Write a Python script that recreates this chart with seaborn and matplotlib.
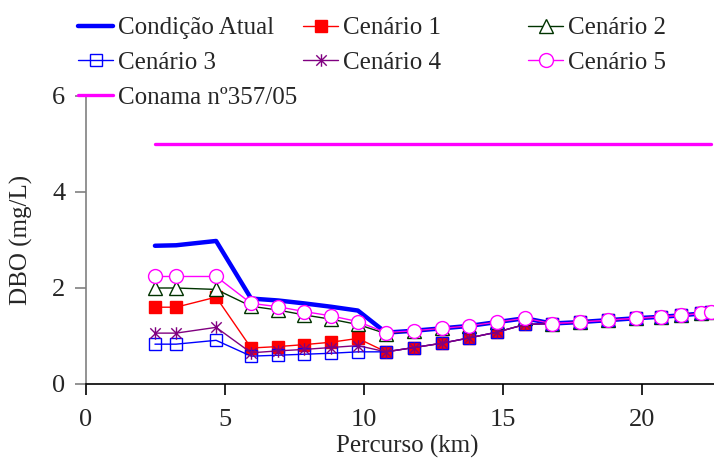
import matplotlib
matplotlib.use('Agg')
import matplotlib.pyplot as plt
import seaborn as sns
from matplotlib.path import Path

# Percurso (km) dos pontos simulados
percurso = [2.48, 3.24, 4.68, 5.94, 6.91, 7.84, 8.81, 9.78, 10.79, 11.80, 12.81,
            13.78, 14.78, 15.79, 16.76, 17.77, 18.78, 19.78, 20.68, 21.40, 22.14, 22.50]

# DBO (mg/L) de cada cenário
condicao_atual = [2.88, 2.89, 2.98, 1.78, 1.74, 1.68, 1.61, 1.53, 1.07, 1.11, 1.16,
                  1.21, 1.29, 1.37, 1.26, 1.29, 1.33, 1.37, 1.40, 1.43, 1.47, 1.51]
cenario_1 = [1.60, 1.60, 1.81, 0.75, 0.78, 0.82, 0.87, 0.95, 0.67, 0.76, 0.85,
             0.96, 1.08, 1.24, 1.26, 1.29, 1.33, 1.37, 1.40, 1.43, 1.47, 1.51]
cenario_2 = [2.00, 2.00, 1.97, 1.62, 1.54, 1.44, 1.35, 1.24, 1.05, 1.11, 1.16,
             1.21, 1.29, 1.37, 1.26, 1.29, 1.33, 1.37, 1.40, 1.43, 1.47, 1.51]
cenario_3 = [0.83, 0.83, 0.91, 0.58, 0.60, 0.62, 0.64, 0.67, 0.67, 0.76, 0.85,
             0.96, 1.08, 1.24, 1.26, 1.29, 1.33, 1.37, 1.40, 1.43, 1.47, 1.51]
cenario_4 = [1.06, 1.06, 1.18, 0.65, 0.69, 0.72, 0.76, 0.80, 0.67, 0.76, 0.85,
             0.96, 1.08, 1.24, 1.26, 1.29, 1.33, 1.37, 1.40, 1.43, 1.47, 1.51]
cenario_5 = [2.24, 2.24, 2.24, 1.68, 1.61, 1.51, 1.42, 1.30, 1.07, 1.11, 1.16,
             1.21, 1.29, 1.37, 1.26, 1.29, 1.33, 1.37, 1.40, 1.43, 1.47, 1.51]

# limite da resolução Conama 357/05
conama_x = [2.48, 22.50]
conama_y = [5.0, 5.0]

x_ticks = [0, 5, 10, 15, 20]
y_ticks = [0, 2, 4, 6]

sns.set_style('ticks')
plt.rcParams['font.family'] = ['Liberation Serif', 'DejaVu Serif']
plt.rcParams['font.size'] = 18

# marcador estrela do Excel (X com barra vertical)
estrela = Path([(-1, -1), (1, 1), (-1, 1), (1, -1), (0, -1.2), (0, 1.2)],
               [Path.MOVETO, Path.LINETO, Path.MOVETO, Path.LINETO, Path.MOVETO, Path.LINETO])

fig = plt.figure(figsize=(7.14, 4.59), dpi=100)
ax = fig.add_axes([86 / 714, 1 - 384 / 459, 628 / 714, 288 / 459])

series = [
    ('Condição Atual', condicao_atual, dict(color='#0000FF', lw=3.2)),
    ('Cenário 1', cenario_1, dict(color='#FF0000', lw=1.0, marker='s', ms=9,
                                  mfc='#FF0000', mec='#FF0000', mew=1.0)),
    ('Cenário 2', cenario_2, dict(color='#003300', lw=1.0, marker='^', ms=10,
                                  mfc='white', mec='#003300', mew=1.0)),
    ('Cenário 3', cenario_3, dict(color='#0000FF', lw=1.0, marker='s', ms=9,
                                  mfc='none', mec='#0000FF', mew=1.0)),
    ('Cenário 4', cenario_4, dict(color='#800080', lw=1.0, marker=estrela, ms=9,
                                  mfc='none', mec='#800080', mew=1.0)),
    ('Cenário 5', cenario_5, dict(color='#FF00FF', lw=1.0, marker='o', ms=10,
                                  mfc='white', mec='#FF00FF', mew=1.0)),
]

handles = {}
for nome, valores, estilo in series:
    sns.lineplot(x=percurso, y=valores, ax=ax, sort=False, errorbar=None,
                 legend=False, **estilo)
    handles[nome] = ax.lines[-1]

sns.lineplot(x=conama_x, y=conama_y, ax=ax, color='#FF00FF', lw=2.4,
             sort=False, errorbar=None, legend=False)
handles['Conama nº357/05'] = ax.lines[-1]

ax.set_xlim(0, 22.59)
ax.set_ylim(0, 6)
ax.set_xticks(x_ticks)
ax.set_yticks(y_ticks)

ax.spines['top'].set_visible(False)
ax.spines['right'].set_visible(False)
ax.spines['left'].set_color('#808080')
ax.spines['left'].set_linewidth(1.2)
ax.spines['bottom'].set_color('black')
ax.spines['bottom'].set_linewidth(1.2)
ax.tick_params(axis='y', direction='out', length=8, width=1.2, color='#808080',
               pad=7, labelsize=19)
ax.tick_params(axis='x', direction='out', length=8, width=1.2, color='black',
               pad=10, labelsize=19)

ax.set_xlabel('Percurso (km)', fontsize=18)
ax.set_ylabel('DBO (mg/L)', fontsize=18)
ax.xaxis.set_label_coords(0.511, -0.176)
ax.yaxis.set_label_coords(-0.085, 0.5)

# legenda em três colunas de largura fixa, como no Excel
colunas = [
    (78 / 714, ['Condição Atual', 'Cenário 3', 'Conama nº357/05']),
    (303 / 714, ['Cenário 1', 'Cenário 4']),
    (528 / 714, ['Cenário 2', 'Cenário 5']),
]
for x0, nomes in colunas:
    leg = fig.legend([handles[n] for n in nomes], nomes, loc='upper left',
                     bbox_to_anchor=(x0, 0.963), frameon=False, fontsize=18,
                     borderpad=0, borderaxespad=0, handlelength=1.4,
                     handletextpad=0.2, labelspacing=0.49, numpoints=1)

plt.savefig('out.png', dpi=100)
